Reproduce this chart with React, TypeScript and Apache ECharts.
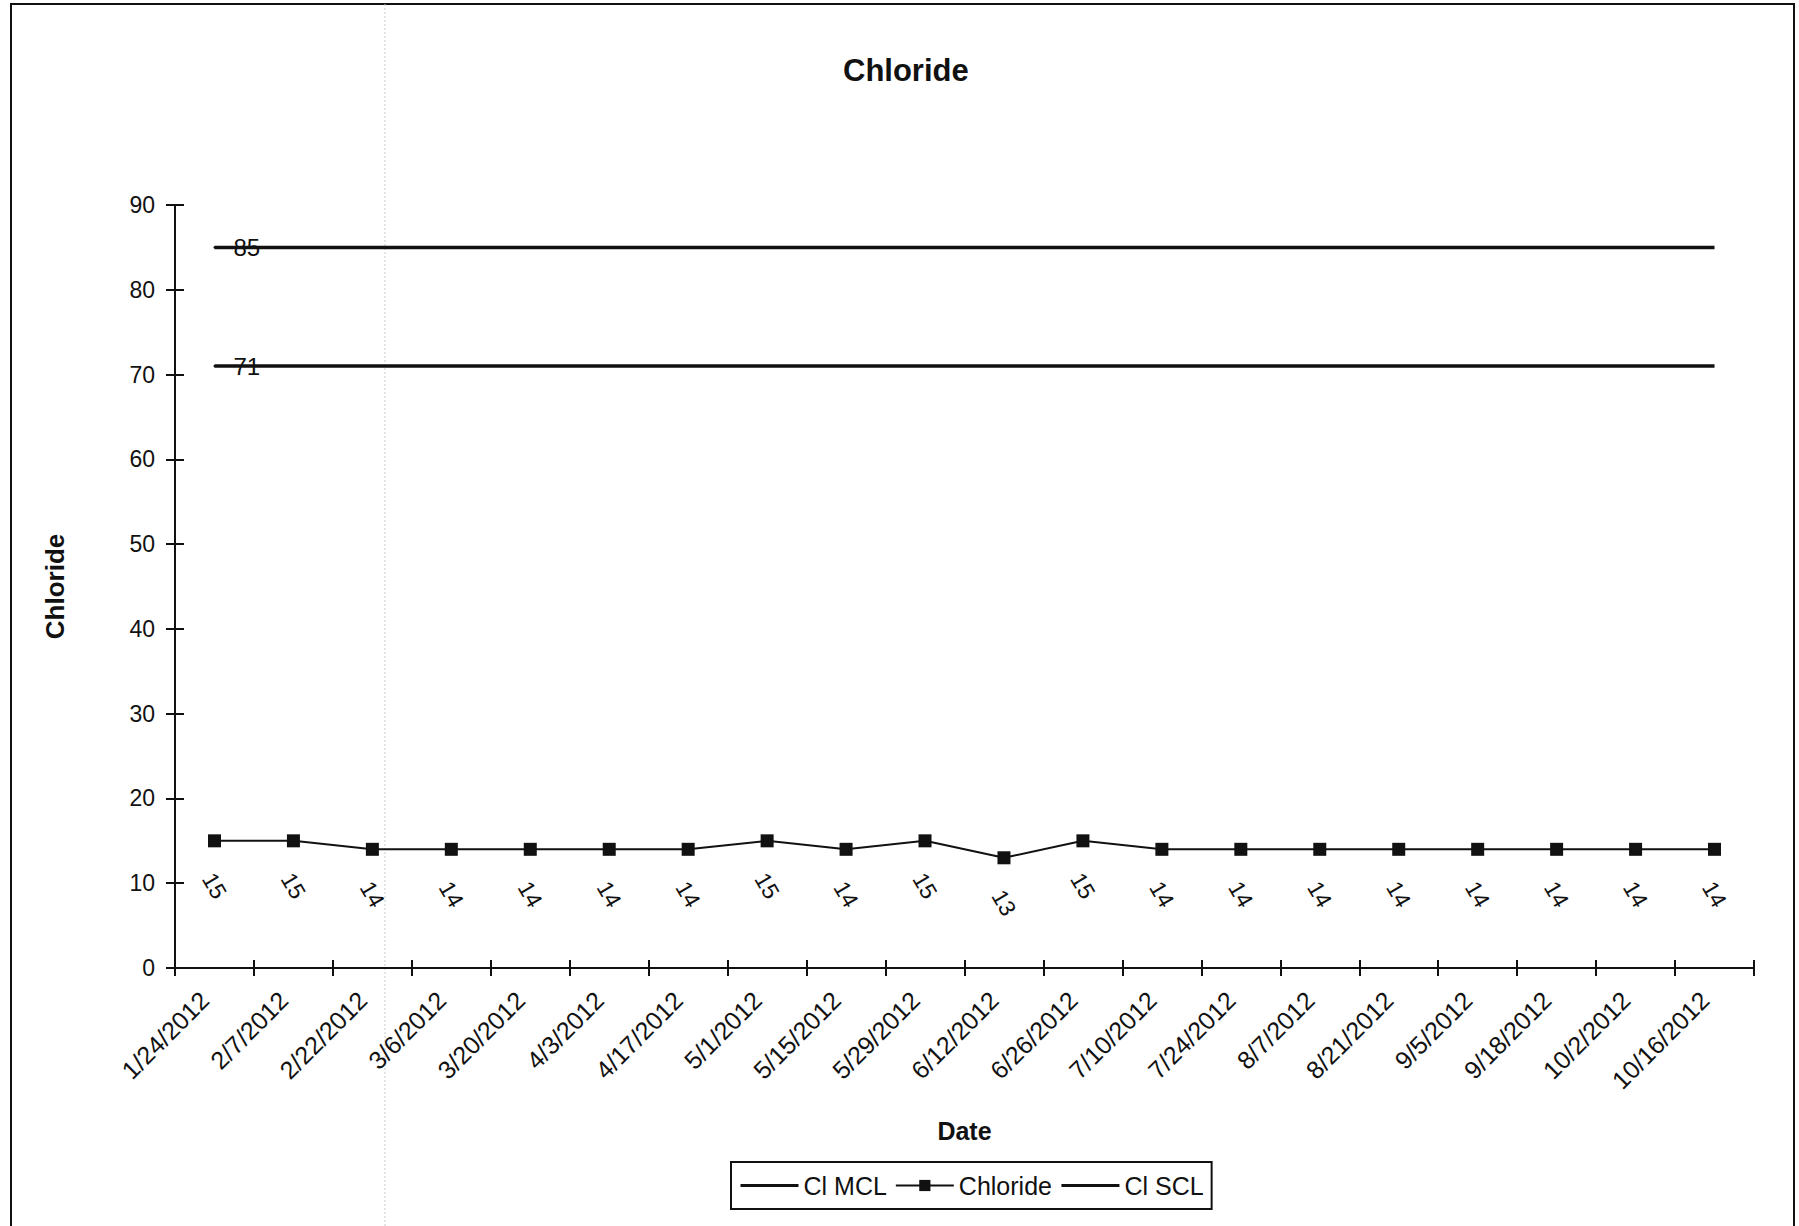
import React, { useEffect, useRef } from "react";
import * as echarts from "echarts";

const categories = [
  "1/24/2012", "2/7/2012", "2/22/2012", "3/6/2012", "3/20/2012", "4/3/2012", "4/17/2012",
  "5/1/2012", "5/15/2012", "5/29/2012", "6/12/2012", "6/26/2012", "7/10/2012", "7/24/2012",
  "8/7/2012", "8/21/2012", "9/5/2012", "9/18/2012", "10/2/2012", "10/16/2012",
];
const chlorideValues = [15, 15, 14, 14, 14, 14, 14, 15, 14, 15, 13, 15, 14, 14, 14, 14, 14, 14, 14, 14];
const mclValues = [85, 85, 85, 85, 85, 85, 85, 85, 85, 85, 85, 85, 85, 85, 85, 85, 85, 85, 85, 85];
const sclValues = [71, 71, 71, 71, 71, 71, 71, 71, 71, 71, 71, 71, 71, 71, 71, 71, 71, 71, 71, 71];
const yTicks = { min: 0, max: 90, interval: 10 };

const FONT = "'Liberation Sans', Arial, Helvetica, sans-serif";
const INK = "#111";

function limitSeries(name: string, values: number[]) {
  return {
    name,
    type: "line",
    xAxisIndex: 0,
    yAxisIndex: 0,
    symbol: "none",
    lineStyle: { color: INK, width: 3.5 },
    itemStyle: { color: INK },
    data: values.map((v, i) =>
      i === 0
        ? {
            value: v,
            symbol: "circle",
            symbolSize: 2,
            label: {
              show: true,
              position: "right",
              distance: 18,
              fontSize: 24,
              fontFamily: FONT,
              color: INK,
            },
          }
        : v
    ),
    z: 2,
  };
}

export default function App() {
  const ref = useRef<HTMLDivElement>(null);
  useEffect(() => {
    if (!ref.current) return;
    const chart = echarts.init(ref.current, undefined, { renderer: "svg" });
    const option = {
      animation: false,
      backgroundColor: "#fff",
      textStyle: { fontFamily: FONT, color: INK },
      title: {
        text: "Chloride",
        left: 838,
        top: 50,
        textStyle: { fontSize: 31, fontWeight: "bold", fontFamily: FONT, color: INK },
      },
      legend: {
        left: 731,
        top: 1162,
        orient: "horizontal",
        borderColor: INK,
        borderWidth: 2,
        padding: [11, 8, 11, 8],
        itemGap: 8,
        itemWidth: 58,
        itemHeight: 14,
        textStyle: { fontSize: 25, fontFamily: FONT, color: INK },
        data: [
          { name: "Cl MCL", itemStyle: { opacity: 0 }, lineStyle: { width: 3 } },
          { name: "Chloride", lineStyle: { width: 2 } },
          { name: "Cl SCL", itemStyle: { opacity: 0 }, lineStyle: { width: 3 } },
        ],
      },
      grid: { left: 175, right: 45, top: 205, bottom: 258, containLabel: false },
      xAxis: [
        {
          type: "category",
          data: categories,
          position: "bottom",
          boundaryGap: true,
          axisLine: { show: true, lineStyle: { color: INK, width: 2 } },
          axisTick: { show: true, inside: false, length: 8, alignWithLabel: false, lineStyle: { color: INK, width: 2 } },
          axisLabel: {
            rotate: 45,
            fontSize: 25,
            margin: 18,
            padding: [0, 14, 0, 0],
            color: INK,
            fontFamily: FONT,
            interval: 0,
          },
          splitLine: { show: false },
          name: "Date",
          nameLocation: "middle",
          nameGap: 150,
          nameTextStyle: { fontSize: 25, fontWeight: "bold", color: INK, fontFamily: FONT },
        },
        {
          type: "category",
          data: categories,
          position: "bottom",
          boundaryGap: true,
          axisLine: { show: false },
          axisTick: { show: true, inside: true, length: 8, lineStyle: { color: INK, width: 2 } },
          axisLabel: { show: false },
          splitLine: { show: false },
        },
      ],
      yAxis: [
        {
          type: "value",
          ...yTicks,
          position: "left",
          axisLine: { show: true, lineStyle: { color: INK, width: 2 } },
          axisTick: { show: true, inside: false, length: 9, lineStyle: { color: INK, width: 2 } },
          axisLabel: { fontSize: 23, margin: 20, color: INK, fontFamily: FONT },
          splitLine: { show: false },
          name: "Chloride",
          nameLocation: "middle",
          nameGap: 107,
          nameTextStyle: { fontSize: 26, fontWeight: "bold", color: INK, fontFamily: FONT },
        },
        {
          type: "value",
          ...yTicks,
          position: "left",
          axisLine: { show: false },
          axisTick: { show: true, inside: true, length: 9, lineStyle: { color: INK, width: 2 } },
          axisLabel: { show: false },
          splitLine: { show: false },
        },
      ],
      series: [
        limitSeries("Cl MCL", mclValues),
        {
          name: "Chloride",
          type: "line",
          xAxisIndex: 0,
          yAxisIndex: 0,
          symbol: "rect",
          symbolSize: 13,
          lineStyle: { color: INK, width: 2 },
          itemStyle: { color: INK },
          label: {
            show: true,
            position: "inside",
            rotate: -60,
            offset: [39, 22.5],
            fontSize: 23,
            fontFamily: FONT,
            color: INK,
          },
          data: chlorideValues,
          z: 3,
        },
        limitSeries("Cl SCL", sclValues),
      ],
      graphic: [
        {
          type: "rect",
          shape: { x: 11, y: 4, width: 1783, height: 1240 },
          style: { fill: "none", stroke: INK, lineWidth: 2 },
          silent: true,
          z: -1,
        },
        {
          type: "line",
          shape: { x1: 385, y1: 4, x2: 385, y2: 1226 },
          style: { stroke: "#c8c8c8", lineWidth: 1, lineDash: [2, 2] },
          silent: true,
          z: -1,
        },
      ],
    };
    chart.setOption(option as any);
    return () => chart.dispose();
  }, []);
  return (
    <div
      ref={ref}
      style={{ position: "fixed", left: 0, top: 0, width: 1799, height: 1226, background: "#fff" }}
    />
  );
}
